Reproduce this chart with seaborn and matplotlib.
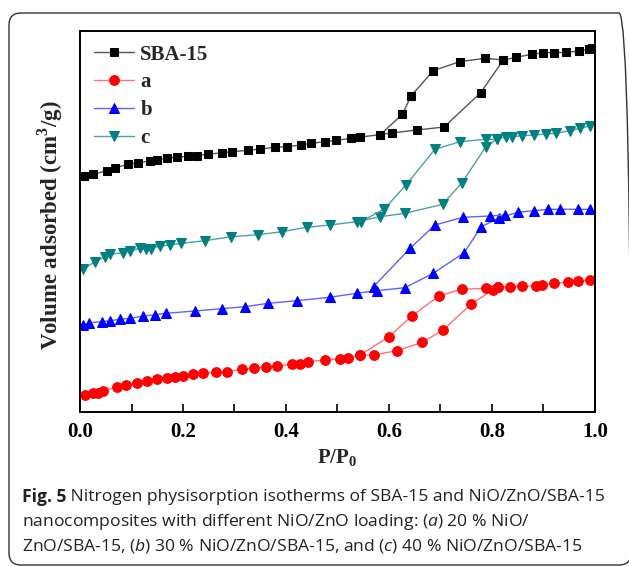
import pandas as pd
import matplotlib
matplotlib.use('Agg')
import matplotlib.pyplot as plt
import seaborn as sns
from matplotlib.patches import FancyBboxPatch

# Nitrogen physisorption isotherms (relative pressure vs volume, arbitrary offset units)
sba_ads_p = [0.008, 0.026, 0.052, 0.068, 0.094, 0.113, 0.136, 0.149, 0.168, 0.188, 0.21, 0.227,
             0.249, 0.275, 0.296, 0.327, 0.35, 0.379, 0.401, 0.43, 0.449, 0.476, 0.498, 0.527,
             0.544, 0.583, 0.605, 0.654, 0.707, 0.778, 0.822, 0.847, 0.877, 0.9, 0.92, 0.943,
             0.969, 0.988, 0.995]
sba_ads_v = [236, 237.7, 241.3, 244.3, 247.7, 249.3, 251, 252, 253.7, 255, 255.7, 256.3,
             258, 259, 260.3, 261.7, 263, 264.7, 265.3, 267, 268.7, 270.3, 271.7, 273.7,
             275, 277.3, 279, 282, 285, 319.3, 352, 354.7, 357.7, 359.3, 359.3, 359.7,
             361, 362.7, 364.3]
sba_des_p = [0.822, 0.786, 0.737, 0.686, 0.643, 0.626, 0.583]
sba_des_v = [352, 353.7, 350.3, 341.3, 316.3, 297.7, 277.3]

a_ads_p = [0.01, 0.026, 0.035, 0.045, 0.071, 0.09, 0.111, 0.131, 0.149, 0.168, 0.184, 0.2,
           0.22, 0.239, 0.265, 0.285, 0.314, 0.337, 0.362, 0.382, 0.411, 0.428, 0.443, 0.476,
           0.504, 0.521, 0.544, 0.57, 0.615, 0.665, 0.705, 0.759, 0.801, 0.812, 0.835, 0.858,
           0.885, 0.897, 0.92, 0.948, 0.967, 0.99]
a_ads_v = [17, 19.3, 18.7, 21.3, 24.7, 27, 29.3, 31.3, 33, 34, 35.3, 36,
           37.7, 38.7, 39.7, 40.3, 42.7, 43.7, 45.3, 46, 47.7, 48, 50.3, 52,
           53.3, 53.7, 57, 57, 61.3, 69.7, 82, 107.7, 122, 125.3, 125.3, 126,
           126, 127, 128.7, 129.7, 131.3, 132]
a_des_p = [0.812, 0.788, 0.741, 0.697, 0.645, 0.6, 0.544]
a_des_v = [125.3, 123.7, 122.7, 116, 96.3, 75.3, 57]

b_ads_p = [0.006, 0.018, 0.042, 0.058, 0.078, 0.097, 0.123, 0.146, 0.167, 0.223, 0.275, 0.32,
           0.366, 0.421, 0.485, 0.537, 0.576, 0.631, 0.686, 0.746, 0.779, 0.814, 0.85, 0.882,
           0.909, 0.932, 0.967, 0.99]
b_ads_v = [87, 89.3, 90.3, 91.3, 92.7, 93.7, 96, 97.3, 98.7, 101, 103.3, 105.3,
           108.7, 111.3, 114.7, 118.7, 121.3, 124.3, 138.7, 159.3, 185.3, 194, 199.7, 201.3,
           202.7, 202.7, 202.7, 202.7]
b_des_p = [0.825, 0.796, 0.744, 0.689, 0.641, 0.57]
b_des_v = [197, 196, 194.7, 187, 163.7, 125.3]

c_ads_p = [0.006, 0.029, 0.049, 0.058, 0.084, 0.097, 0.117, 0.129, 0.137, 0.155, 0.175, 0.197,
           0.243, 0.294, 0.346, 0.392, 0.44, 0.485, 0.537, 0.583, 0.631, 0.704, 0.741, 0.788,
           0.809, 0.828, 0.839, 0.858, 0.882, 0.905, 0.925, 0.951, 0.971, 0.99]
c_ads_v = [142.7, 150.3, 155.3, 157.7, 159.3, 161.3, 163.7, 162.7, 163.3, 166, 167, 168.7,
           171.3, 175.3, 177.3, 180.3, 184.7, 187, 190.3, 195.3, 198.7, 207.7, 228.7, 265.3,
           272.7, 275.3, 275.3, 276.3, 277, 278, 278.7, 281.3, 283.7, 286]
c_des_p = [0.809, 0.788, 0.738, 0.689, 0.633, 0.591, 0.545]
c_des_v = [272.7, 272.7, 270.3, 262.7, 227, 203, 190.3]

labels = ['SBA-15', 'a', 'b', 'c']
colors = ['black', '#ff0000', '#0000ff', '#008080']
line_colors = ['#555555', '#ff7070', '#6060ff', '#50a0a0']
markers = ['s', 'o', '^', 'v']
marker_sizes = [6, 7, 7.5, 7.5]

caption_head = 'Fig. 5'
caption = [
    " Nitrogen physisorption isotherms of SBA-15 and NiO/ZnO/SBA-15",
    r"nanocomposites with different NiO/ZnO loading: ($\mathit{a}$) 20 % NiO/",
    r"ZnO/SBA-15, ($\mathit{b}$) 30 % NiO/ZnO/SBA-15, and ($\mathit{c}$) 40 % NiO/ZnO/SBA-15",
]

sns.set_style('white')
plt.rcParams['font.family'] = ['Liberation Serif', 'DejaVu Serif']
plt.rcParams['mathtext.fontset'] = 'custom'
plt.rcParams['mathtext.rm'] = 'Liberation Serif'
plt.rcParams['mathtext.bf'] = 'Liberation Serif:bold'
plt.rcParams['mathtext.it'] = 'Open Sans:italic'

fig = plt.figure(figsize=(6.29, 5.67), dpi=100)
W, H = 629, 567
ax = fig.add_axes([80 / W, (H - 412) / H, 515 / W, 381 / H])

branches = [
    (sba_ads_p, sba_ads_v, sba_des_p, sba_des_v),
    (a_ads_p, a_ads_v, a_des_p, a_des_v),
    (b_ads_p, b_ads_v, b_des_p, b_des_v),
    (c_ads_p, c_ads_v, c_des_p, c_des_v),
]

for i, (ap, av, dp, dv) in enumerate(branches):
    style = dict(color=line_colors[i], marker=markers[i], markersize=marker_sizes[i],
                 markerfacecolor=colors[i], markeredgecolor=colors[i], linewidth=1.0)
    ads = pd.DataFrame({'P': ap, 'V': av})
    des = pd.DataFrame({'P': dp, 'V': dv})
    sns.lineplot(data=ads, x='P', y='V', sort=False, ax=ax, label=labels[i], **style)
    sns.lineplot(data=des, x='P', y='V', sort=False, ax=ax, label='_nolegend_', **style)

ax.set_xlim(0, 1.0)
ax.set_ylim(0, 381)
ax.set_xticks([0.0, 0.2, 0.4, 0.6, 0.8, 1.0])
ax.set_xticks([0.1, 0.3, 0.5, 0.7, 0.9], minor=True)
ax.set_xticklabels(['0.0', '0.2', '0.4', '0.6', '0.8', '1.0'], fontweight='bold', fontsize=15)
ax.set_yticks([])
ax.tick_params(axis='x', which='both', direction='in', length=6, width=1.2, pad=7,
               bottom=True, top=False, colors='black')
for sp in ax.spines.values():
    sp.set_linewidth(1.4)
    sp.set_color('black')

ax.set_xlabel(r'P/P$_\mathbf{0}$', fontweight='bold', fontsize=15, labelpad=4)
ax.set_ylabel(r'Volume adsorbed (cm$^\mathbf{3}$/g)', fontweight='bold', fontsize=16.5)
ax.yaxis.set_label_coords(-0.03, 0.49)

leg = ax.legend(loc='upper left', frameon=False, handlelength=1.95,
                handletextpad=0.3, labelspacing=0.38, borderaxespad=0.25,
                prop={'weight': 'bold', 'size': 15})

# rounded frame around figure + caption
box = FancyBboxPatch((0.09, 0.02), 6.22, 5.52, boxstyle='round,pad=0,rounding_size=0.12',
                     transform=fig.dpi_scale_trans, fill=False, edgecolor='#333333',
                     linewidth=1.0)
fig.patches.append(box)

# caption: bold head, then regular text
fig.canvas.draw()
renderer = fig.canvas.get_renderer()
cap_size = 12.6
head = fig.text(22 / W, 1 - 497 / H, caption_head, family='Open Sans', fontweight='bold',
                fontsize=cap_size, va='center', ha='left', color='#222222')
head_px = head.get_window_extent(renderer=renderer)
for k, line in enumerate(caption):
    x0 = head_px.x1 / W if k == 0 else 22 / W
    fig.text(x0, 1 - (497 + 24.5 * k) / H, line, family='Open Sans', fontsize=cap_size,
             va='center', ha='left', color='#222222')

fig.savefig('out.png', dpi=100)
